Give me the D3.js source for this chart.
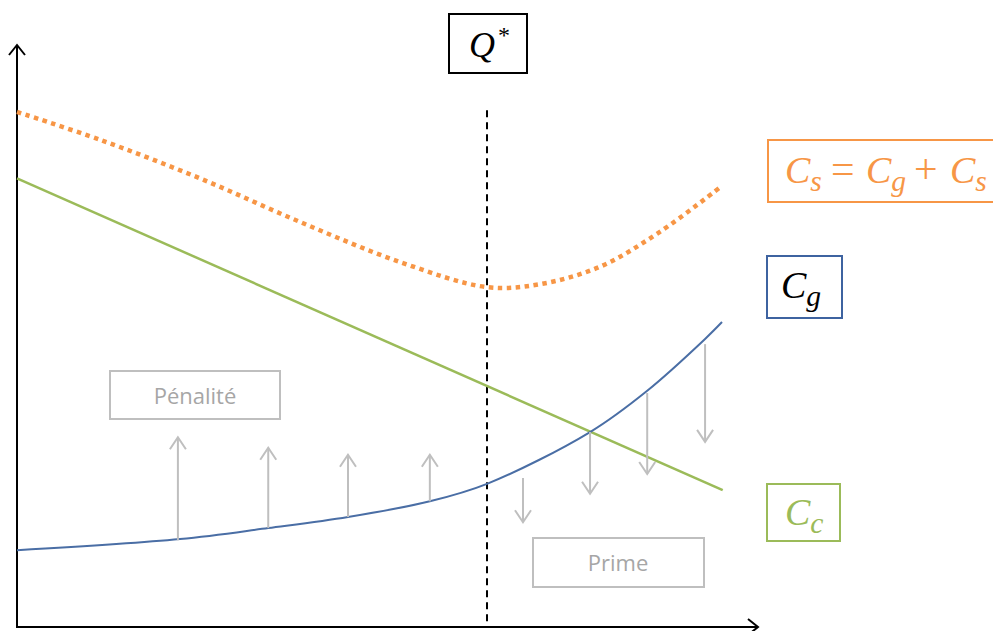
<!DOCTYPE html>
<html>
<head>
<meta charset="utf-8">
<script src="https://cdn.jsdelivr.net/npm/d3@7"></script>
<style>
  body { margin: 0; background: #fff; }
  svg { display: block; }
  .math { font-family: "Liberation Serif", "DejaVu Serif", serif; font-style: italic; }
  .lbl { font-family: "Open Sans", "Noto Sans", sans-serif; }
</style>
</head>
<body>
<svg id="chart" width="993" height="631"></svg>
<script>
// Curves (x in 0..100, cost in 0..100)
const csPts = [[0, 88.5], [11.8, 83.7], [25.9, 77.1], [40.1, 69.6], [54.3, 62.7], [66.6, 58.4],
               [74.1, 58.9], [82.6, 61.9], [91.1, 67.9], [99.9, 75.8]];
const cgPts = [[0, 13.2], [23.1, 15.1], [35.6, 17.0], [46.9, 18.9], [58.5, 21.6], [66.6, 24.6],
               [81.2, 33.5], [89.3, 40.6], [97.5, 49.5], [99.9, 52.4]];
const ccPts = [[0, 77.1], [100, 23.5]];
const qStar = 66.6;
const qLineTop = 88.8;

// Pénalité (up) and Prime (down) arrows: [x, from, to]
const penaltyArrows = [[22.8, 14.9, 32.6], [35.6, 17.0, 30.8], [46.9, 18.9, 29.6], [58.5, 21.6, 29.6]];
const primeArrows = [[71.7, 25.6, 18.0], [81.2, 33.5, 22.9], [89.3, 40.2, 26.3], [97.5, 48.6, 31.8]];

const labels = { penalty: "Pénalité", prime: "Prime" };

const svg = d3.select("#chart");
const x = d3.scaleLinear().domain([0, 105]).range([17, 758]);
const y = d3.scaleLinear().domain([0, 100]).range([627, 45]);

const line = d3.line().x(d => x(d[0])).y(d => y(d[1])).curve(d3.curveCatmullRom.alpha(0.5));

// axes
const axisCol = "#000";
svg.append("line").attr("x1", x(0)).attr("x2", x(0)).attr("y1", y(0)).attr("y2", y(100))
  .attr("stroke", axisCol).attr("stroke-width", 2);
svg.append("line").attr("x1", x(0) - 1).attr("x2", x(105)).attr("y1", y(0)).attr("y2", y(0))
  .attr("stroke", axisCol).attr("stroke-width", 2);
svg.append("path").attr("d", `M${x(0) - 8},${y(100) + 10} L${x(0)},${y(100)} L${x(0) + 8},${y(100) + 10}`)
  .attr("fill", "none").attr("stroke", axisCol).attr("stroke-width", 2);
svg.append("path").attr("d", `M${x(105) - 10},${y(0) - 8} L${x(105)},${y(0)} L${x(105) - 10},${y(0) + 8}`)
  .attr("fill", "none").attr("stroke", axisCol).attr("stroke-width", 2);

// Q* dashed line
svg.append("line").attr("x1", x(qStar)).attr("x2", x(qStar)).attr("y1", y(qLineTop)).attr("y2", y(0))
  .attr("stroke", "#000").attr("stroke-width", 2).attr("stroke-dasharray", "7,5");

// curves
svg.append("path").attr("d", line(ccPts)).attr("fill", "none").attr("stroke", "#9bbb59").attr("stroke-width", 2.5);
svg.append("path").attr("d", line(cgPts)).attr("fill", "none").attr("stroke", "#4a6ea5").attr("stroke-width", 2);
svg.append("path").attr("d", line(csPts)).attr("fill", "none").attr("stroke", "#f79646")
  .attr("stroke-width", 4.5).attr("stroke-dasharray", "4.5,4.5");

// arrows
const gray = "#bfbfbf";
const drawArrows = (data) => {
  const g = svg.append("g").attr("stroke", gray).attr("stroke-width", 2).attr("fill", "none");
  data.forEach(([xv, a, b]) => {
    const px = x(xv), y0 = y(a), y1 = y(b);
    const dir = y1 < y0 ? 1 : -1;
    g.append("line").attr("x1", px).attr("x2", px).attr("y1", y0).attr("y2", y1);
    g.append("path").attr("d", `M${px - 8},${y1 + dir * 12} L${px},${y1} L${px + 8},${y1 + dir * 12}`);
  });
};
drawArrows(penaltyArrows);
drawArrows(primeArrows);

// boxes
const box = (x0, y0, w, h, stroke, sw) =>
  svg.append("rect").attr("x", x0).attr("y", y0).attr("width", w).attr("height", h)
    .attr("fill", "#fff").attr("stroke", stroke).attr("stroke-width", sw);

box(110, 371, 170, 48, gray, 2);
svg.append("text").attr("class", "lbl").attr("x", 195).attr("y", 404).attr("text-anchor", "middle")
  .attr("font-size", 22).attr("fill", "#a6a6a6").text(labels.penalty);
box(533, 538, 171, 49, gray, 2);
svg.append("text").attr("class", "lbl").attr("x", 618).attr("y", 571).attr("text-anchor", "middle")
  .attr("font-size", 22).attr("fill", "#a6a6a6").text(labels.prime);

// math label: each part [x, text, sub, upright]
const mathLabel = (py, parts, fill, size) => {
  const g = svg.append("g").attr("fill", fill);
  parts.forEach(([px, main, sub, upright]) => {
    const t = g.append("text").attr("class", "math").attr("x", px).attr("y", py).attr("font-size", size);
    const s = t.append("tspan").text(main);
    if (upright) s.attr("font-style", "normal").attr("font-size", size * 1.1);
    if (sub) t.append("tspan").attr("dy", size * 0.2).attr("font-size", size * 0.78).text(sub);
  });
};

box(449, 14, 78, 59, "#000", 2);
const q = svg.append("text").attr("class", "math").attr("x", 469).attr("y", 57)
  .attr("font-size", 36).attr("fill", "#000");
q.append("tspan").text("Q");
q.append("tspan").attr("dy", -14).attr("dx", 3).attr("font-size", 24).attr("font-style", "normal").text("*");

box(768, 140, 240, 62, "#f79646", 2);
mathLabel(183, [[785, "C", "s"], [831, "=", null, true], [866, "C", "g"], [914, "+", null, true], [950, "C", "s"]],
  "#f79646", 38);

box(767, 256, 75, 62, "#3e63a0", 2);
mathLabel(298, [[781, "C", "g"]], "#000", 38);

box(767, 484, 73, 57, "#9bbb59", 2);
mathLabel(525, [[785, "C", "c"]], "#9bbb59", 38);
</script>
</body>
</html>
